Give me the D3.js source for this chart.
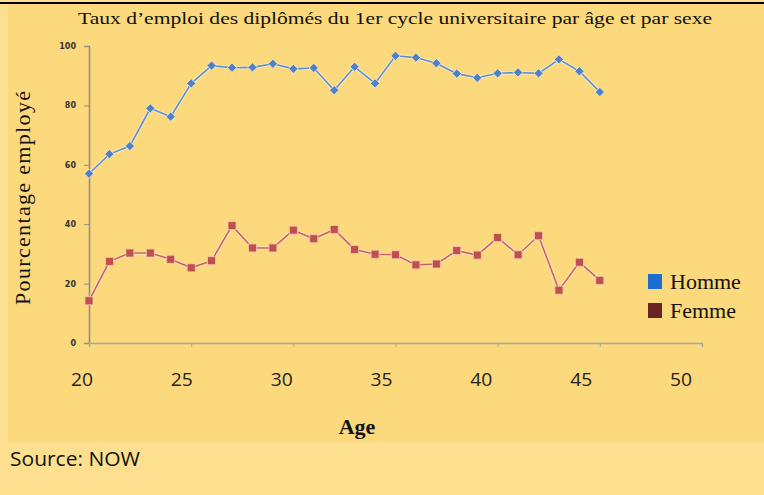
<!DOCTYPE html>
<html>
<head>
<meta charset="utf-8">
<script src="https://cdn.jsdelivr.net/npm/d3@7"></script>
<style>
  html, body { margin: 0; padding: 0; background: #fde08f; }
  svg { display: block; }
</style>
</head>
<body>
<svg id="chart" width="764" height="495"></svg>
<script>
// Ages on the category axis (20..50), data only up to 45
var ages = d3.range( 20, 51 );
var dataAges = d3.range( 20, 46 );

var homme = [ 57, 63.6, 66.3, 79, 76.2, 87.4, 93.4, 92.7, 92.8, 94, 92.3, 92.6, 85.1, 93, 87.4,
	96.7, 96.1, 94.2, 90.7, 89.3, 90.8, 91.1, 90.8, 95.5, 91.5, 84.5 ];
var femme = [ 14.2, 27.5, 30.3, 30.3, 28.2, 25.3, 27.7, 39.5, 32, 32, 38, 35.1, 38.2, 31.5, 29.9,
	29.7, 26.3, 26.6, 31.1, 29.6, 35.5, 29.7, 36.1, 17.8, 27.2, 21.1 ];

var yTicks = [ 0, 20, 40, 60, 80, 100 ];
var xLabels = [ 20, 25, 30, 35, 40, 45, 50 ];
var seriesNames = [ 'Homme', 'Femme' ];

var svg = d3.select( '#chart' );

// panel
svg.append( 'rect' ).attr( 'x', 8 ).attr( 'y', 4 ).attr( 'width', 756 ).attr( 'height', 438 )
	.attr( 'fill', '#fcd97c' );
svg.append( 'line' ).attr( 'x1', 0 ).attr( 'x2', 764 ).attr( 'y1', 3 ).attr( 'y2', 3 )
	.attr( 'stroke', '#000' ).attr( 'stroke-width', 2 );

var x = d3.scalePoint().domain( ages ).range( [ 89, 702 ] );
var y = d3.scaleLinear().domain( [ 0, 100 ] ).range( [ 343, 46 ] );
// the age labels sit a little off the ticks, as in the source image
var xLab = d3.scaleLinear().domain( [ 20, 50 ] ).range( [ 82, 681 ] );

// title
svg.append( 'text' )
	.attr( 'x', 395 ).attr( 'y', 24 )
	.attr( 'text-anchor', 'middle' )
	.attr( 'font-family', 'Liberation Serif, Times New Roman, serif' )
	.attr( 'font-size', 17.5 )
	.attr( 'textLength', 634 ).attr( 'lengthAdjust', 'spacingAndGlyphs' )
	.attr( 'fill', '#111' )
	.text( 'Taux d\u2019emploi  des diplômés  du 1er  cycle universitaire  par âge et par  sexe' );

// y axis
var yAxis = svg.append( 'g' )
	.attr( 'transform', 'translate(89,0)' )
	.call( d3.axisLeft( y ).tickValues( yTicks ).tickSize( 5 ).tickPadding( 8 ) );
yAxis.select( '.domain' ).attr( 'stroke', '#8c8c8c' ).attr( 'stroke-width', 1.5 );
yAxis.selectAll( '.tick line' ).attr( 'stroke', '#8c8c8c' );
yAxis.selectAll( '.tick text' )
	.attr( 'font-family', 'DejaVu Sans, sans-serif' ).attr( 'font-size', 8 )
	.attr( 'font-weight', 'bold' ).attr( 'fill', '#333' );

// x axis
var xAxis = svg.append( 'g' )
	.attr( 'transform', 'translate(0,343)' )
	.call( d3.axisBottom( x ).tickValues( xLabels ).tickSize( 4 ).tickFormat( '' ) );
xAxis.select( '.domain' ).attr( 'stroke', '#a6a6a6' ).attr( 'stroke-width', 1.5 );
xAxis.selectAll( '.tick line' ).attr( 'stroke', '#a6a6a6' );

svg.append( 'g' ).selectAll( 'text' )
	.data( xLabels )
	.enter()
	.append( 'text' )
	.attr( 'x', function ( d ) { return xLab( d ); } )
	.attr( 'y', 386 )
	.attr( 'text-anchor', 'middle' )
	.attr( 'font-family', 'Open Sans, sans-serif' )
	.attr( 'font-size', 19 )
	.attr( 'textLength', 22 ).attr( 'lengthAdjust', 'spacingAndGlyphs' )
	.attr( 'fill', '#222' )
	.text( function ( d ) { return d; } );

// axis titles
svg.append( 'text' )
	.attr( 'transform', 'translate(30,198) rotate(-90)' )
	.attr( 'text-anchor', 'middle' )
	.attr( 'font-family', 'Liberation Serif, serif' )
	.attr( 'font-size', 22 )
	.attr( 'textLength', 214 ).attr( 'lengthAdjust', 'spacing' )
	.attr( 'fill', '#111' )
	.text( 'Pourcentage  employé' );

svg.append( 'text' )
	.attr( 'x', 357 ).attr( 'y', 434 )
	.attr( 'text-anchor', 'middle' )
	.attr( 'font-family', 'Liberation Serif, serif' )
	.attr( 'font-size', 22 ).attr( 'font-weight', 'bold' )
	.attr( 'fill', '#111' )
	.text( 'Age' );

// lines
var line = d3.line()
	.x( function ( d, i ) { return x( dataAges[i] ); } )
	.y( function ( d ) { return y( d ); } );

svg.append( 'path' ).datum( homme )
	.attr( 'd', line ).attr( 'fill', 'none' )
	.attr( 'stroke', '#fff4d8' ).attr( 'stroke-width', 3.5 ).attr( 'opacity', 0.6 );
svg.append( 'path' ).datum( homme )
	.attr( 'd', line ).attr( 'fill', 'none' )
	.attr( 'stroke', '#5b8fd6' ).attr( 'stroke-width', 1.6 );

svg.append( 'path' ).datum( femme )
	.attr( 'd', line ).attr( 'fill', 'none' )
	.attr( 'stroke', '#fff4d8' ).attr( 'stroke-width', 3.5 ).attr( 'opacity', 0.6 );
svg.append( 'path' ).datum( femme )
	.attr( 'd', line ).attr( 'fill', 'none' )
	.attr( 'stroke', '#cc5d6a' ).attr( 'stroke-width', 1.6 );

// markers
var diamond = d3.symbol().type( d3.symbolDiamond2 ).size( 55 );
svg.append( 'g' ).selectAll( 'path' )
	.data( homme )
	.enter()
	.append( 'path' )
	.attr( 'd', diamond )
	.attr( 'transform', function ( d, i ) { return 'translate(' + x( dataAges[i] ) + ',' + y( d ) + ')'; } )
	.attr( 'fill', '#4f81c9' )
	.attr( 'stroke', '#f6ecd0' ).attr( 'stroke-width', 0.8 );

svg.append( 'g' ).selectAll( 'rect' )
	.data( femme )
	.enter()
	.append( 'rect' )
	.attr( 'x', function ( d, i ) { return x( dataAges[i] ) - 4; } )
	.attr( 'y', function ( d ) { return y( d ) - 4; } )
	.attr( 'width', 8 ).attr( 'height', 8 )
	.attr( 'fill', '#c0504d' )
	.attr( 'stroke', '#f3c6b0' ).attr( 'stroke-width', 0.8 );

// legend
var legendColors = [ '#1c6fd0', '#6b2424' ];
var legend = svg.append( 'g' ).selectAll( 'g' )
	.data( seriesNames )
	.enter()
	.append( 'g' )
	.attr( 'transform', function ( d, i ) { return 'translate(648,' + ( 274 + i * 29 ) + ')'; } );
legend.append( 'rect' )
	.attr( 'width', 14 ).attr( 'height', 15 )
	.attr( 'fill', function ( d, i ) { return legendColors[i]; } );
legend.append( 'text' )
	.attr( 'x', 22 ).attr( 'y', 15 )
	.attr( 'font-family', 'Liberation Serif, serif' )
	.attr( 'font-size', 22 )
	.attr( 'fill', '#111' )
	.text( function ( d ) { return d; } );

// source
svg.append( 'text' )
	.attr( 'x', 10 ).attr( 'y', 466 )
	.attr( 'font-family', 'Open Sans, sans-serif' )
	.attr( 'font-size', 20 )
	.attr( 'textLength', 130 ).attr( 'lengthAdjust', 'spacingAndGlyphs' )
	.attr( 'fill', '#111' )
	.text( 'Source: NOW' );
</script>
</body>
</html>
